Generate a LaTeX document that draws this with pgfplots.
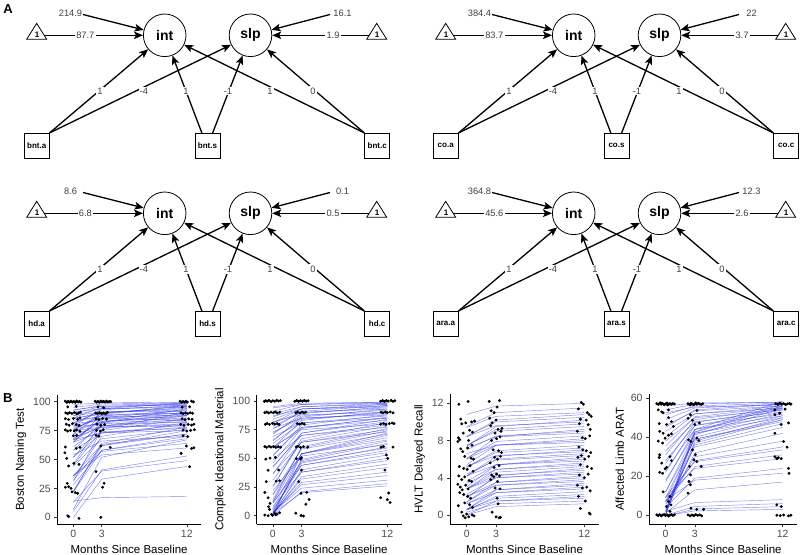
\documentclass[border=0pt]{standalone}
\usepackage{fontspec}
\setmainfont{Liberation Sans}
\usepackage{pgfplots}
\pgfplotsset{compat=1.18}
\usetikzlibrary{arrows.meta}
\definecolor{tickgray}{HTML}{4D4D4D}
\definecolor{tickline}{HTML}{333333}
\definecolor{labgray}{HTML}{404040}
\definecolor{trajblue}{RGB}{25,35,225}

\tikzset{
  arr/.style={line width=1.3pt,-{Stealth[length=9pt,width=7.5pt,inset=2pt]}},
  lab/.style={fill=white,inner sep=1.3pt,text=labgray,font=\fontsize{9.3}{10}\selectfont},
  lat/.style={circle,draw,line width=0.8pt,minimum size=42.6pt,inner sep=0pt,font=\bfseries\fontsize{14}{16}\selectfont},
  obs/.style={draw,line width=0.8pt,minimum size=25pt,inner sep=0pt,font=\bfseries\fontsize{8}{9}\selectfont},
  one/.style={inner sep=0pt,font=\bfseries\fontsize{8}{9}\selectfont},
}
\pgfplotsset{
  bplot/.style={scale only axis, anchor=south west,
    axis x line*=bottom, axis y line*=left,
    xmin=-1.7, xmax=13.5, xtick={0,3,12},
    tick align=outside, major tick length=3pt,
    tick style={tickline,line width=0.5pt},
    axis line style={line width=0.55pt},
    /pgf/number format/assume math mode=true,
    ticklabel style={font=\fontsize{10.5}{12}\selectfont, text=tickgray},
    label style={font=\fontsize{11.5}{13}\selectfont},
    xlabel={Months Since Baseline}},
  traj/.style={trajblue, line width=0.45pt, opacity=0.55, forget plot},
  pts/.style={only marks, mark=*, mark size=1.25pt, black, forget plot},
}
\newcommand\tr[3]{\addplot[traj] coordinates {(0,#1)(3,#2)(12,#3)};}

\newcommand\sempt[3]{\pgfmathsetmacro\semx{#2+\semdx}\pgfmathsetmacro\semy{#3+\semdy}\coordinate (#1) at (axis cs:\semx,\semy);}
\newcommand\semdiag[7]{\pgfplotsextra{%
  \def\semdx{#1}\def\semdy{#2}%
  \sempt{I}{164.7}{35.3}\sempt{S}{250.5}{35.3}%
  \sempt{BA}{36.7}{145.8}\sempt{BS}{207.5}{145.8}\sempt{BC}{377.2}{145.8}%
  \sempt{SA}{202}{133.3}\sempt{SB}{212.5}{133.3}%
  \sempt{T1a}{26.7}{39.3}\sempt{T1b}{36.7}{23.3}\sempt{T1c}{46.7}{39.3}\sempt{T1}{37}{34.5}%
  \sempt{T2a}{366.7}{39.3}\sempt{T2b}{376.7}{23.3}\sempt{T2c}{386.7}{39.3}\sempt{T2}{377}{34.5}%
  \sempt{M1}{44}{35.3}\sempt{M2}{369.4}{35.3}\sempt{V1}{83}{14.5}\sempt{V2}{330}{14.5}%
  \sempt{LM1}{85.3}{35.3}\sempt{LV1}{70.5}{13.3}\sempt{LM2}{333}{35.3}\sempt{LV2}{342.5}{13.3}%
  \sempt{E1}{100}{91}\sempt{E2}{144}{91}\sempt{E3}{186}{91}\sempt{E4}{228}{91}\sempt{E5}{270}{91}\sempt{E6}{313}{91}%
  \node[lat] (ni) at (I) {int};
  \node[lat] (ns) at (S) {slp};
  \node[obs] (na) at (BA) {#7.a};
  \node[obs] (nb) at (BS) {#7.s};
  \node[obs] (nc) at (BC) {#7.c};
  \draw[line width=0.8pt] (T1a)--(T1b)--(T1c)--cycle; \node[one] at (T1) {1};
  \draw[line width=0.8pt] (T2a)--(T2b)--(T2c)--cycle; \node[one] at (T2) {1};
  \draw[arr] (M1)--(ni); \draw[arr] (V1)--(ni);
  \draw[arr] (M2)--(ns); \draw[arr] (V2)--(ns);
  \draw[arr] (na.north east)--(ni); \draw[arr] (na.north east)--(ns);
  \draw[arr] (SA)--(ni); \draw[arr] (SB)--(ns);
  \draw[arr] (nc.north west)--(ni); \draw[arr] (nc.north west)--(ns);
  \node[lab] at (LM1) {#4}; \node[lab] at (LV1) {#3};
  \node[lab] at (LM2) {#6}; \node[lab] at (LV2) {#5};
  \node[lab] at (E1) {1}; \node[lab] at (E2) {-4}; \node[lab] at (E3) {1};
  \node[lab] at (E4) {-1}; \node[lab] at (E5) {1}; \node[lab] at (E6) {0};
}}

\begin{document}
\begin{tikzpicture}
\useasboundingbox (0,0) rectangle (800pt,554pt);
% ---------- panel A (path diagrams) ----------
\begin{axis}[at={(0pt,0pt)}, anchor=south west, scale only axis, width=800pt, height=554pt,
  xmin=0, xmax=800, ymin=0, ymax=554, y dir=reverse, hide axis, clip=false]
\semdiag{0}{0}{214.9}{87.7}{16.1}{1.9}{bnt}
\semdiag{409}{0}{384.4}{83.7}{22}{3.7}{co}
\semdiag{0}{178}{8.6}{6.8}{0.1}{0.5}{hd}
\semdiag{409}{178}{364.8}{45.6}{12.3}{2.6}{ara}
\node[font=\bfseries\fontsize{13}{15}\selectfont] at (axis cs:8,9) {A};
\node[font=\bfseries\fontsize{13}{15}\selectfont] at (axis cs:7.7,397.7) {B};
\end{axis}

% ---------- B1: Boston Naming Test ----------
\begin{axis}[bplot, at={(57.3pt,30pt)}, width=143.7pt, height=129pt,
  ymin=-5.8, ymax=105.8, ytick={0,25,50,75,100}, ylabel={Boston Naming Test}]
\addplot[pts] coordinates {
(-0.85,100.5)(-0.7,99.5)(-0.55,100.3)(-0.4,99.6)(-0.25,100.4)(-0.1,99.7)(0.05,100.2)(0.2,99.5)(0.35,100.6)(0.5,99.8)(0.65,100.3)(0.8,99.6)
(-0.6,95.5)(0.3,96)
(-0.8,90.3)(-0.6,89.6)(-0.4,90.5)(-0.15,89.8)(0.1,90.6)(0.35,89.5)(0.55,90.2)(0.75,91)
(-0.85,85.3)(-0.5,84.6)(0.0,85.5)(0.45,84.8)(0.7,86)
(-0.75,80.5)(-0.45,79.6)(-0.1,81)(0.3,80.2)(0.6,79.5)
(-0.85,75.6)(-0.6,74.6)(-0.3,75.2)(0.1,74.8)(0.35,75.5)(0.7,74.4)
(0.0,70.5)(0.35,71)
(-0.85,60.8)(0.3,59.6)(0.7,60.5)(-0.9,55.8)(-0.7,51)
(-0.5,44.4)(0.05,46.7)(0.6,45.8)
(-0.65,29.4)(-0.5,26.5)(-0.25,25)(-0.15,22)(0.2,21.3)(0.45,20.7)(-0.85,26)
(-0.6,1.2)(-0.5,0.6)(0.6,-0.9)
(2.3,100.4)(2.45,99.6)(2.6,100.2)(2.75,99.5)(2.9,100.6)(3.05,99.8)(3.2,100.3)(3.35,99.6)(3.5,100.5)(3.65,99.7)(3.8,100.2)(3.95,100)
(2.6,95.5)(3.2,94.8)
(2.35,90.2)(2.55,89.6)(2.8,90.5)(3.0,89.7)(3.2,90.3)(3.4,89.5)(3.6,90.8)
(2.4,85.2)(2.7,84.6)(3.1,85.5)(3.5,85)
(2.5,80.5)(2.9,79.6)(3.3,80.2)
(2.45,75.3)(2.85,74.6)(3.15,75.8)
(2.4,71)(2.7,70.2)(2.9,61.7)(3.9,60.5)(2.4,39.5)(3.25,29.4)(3.1,26)(2.9,0)
(11.3,100.4)(11.45,99.6)(11.6,100.2)(11.75,99.6)(11.9,100.3)(12.05,99.7)(12.5,100.5)(12.7,99.8)
(11.5,95.2)(12.3,95.6)
(11.4,90.4)(11.6,89.6)(11.85,90.3)(12.1,89.7)(12.35,90.5)(12.6,90)
(11.5,85.3)(11.8,84.5)(12.2,85.2)(12.55,84.8)
(11.35,80.4)(11.7,79.6)(12.15,80.3)(12.5,79.8)(12.75,80.5)
(11.6,75.5)(12.0,74.6)(12.4,75.2)(12.8,75.8)
(11.6,70.5)(12.1,69.8)(11.95,61.7)(12.5,59.5)(12.75,60.2)(11.4,55.3)(12.3,43.8)
};
\tr{97.5}{99}{99.5}\tr{95}{98}{99}\tr{92.5}{97}{98.5}\tr{90}{96}{98}\tr{86}{95}{98}
\tr{93}{96}{97}\tr{81}{93}{97}\tr{88}{94}{96}\tr{75}{90}{95}\tr{91}{94}{95}
\tr{82}{91}{94}\tr{85}{91}{93}\tr{88}{91}{92}\tr{76}{88}{92}\tr{67}{85}{91}
\tr{82}{88}{90}\tr{86}{89}{90}\tr{77}{86}{89}\tr{68}{83}{88}\tr{84}{87}{88}
\tr{79}{85}{87}\tr{74}{83}{86}\tr{81}{84}{85}\tr{61}{79}{85}\tr{76}{82}{84}
\tr{67}{79}{83}\tr{78}{81}{82}\tr{69}{78}{81}\tr{52}{73}{80}\tr{72}{78}{80}
\tr{75}{78}{79}\tr{58}{73}{78}\tr{65}{74}{77}\tr{44}{68}{76}\tr{67}{73}{75}
\tr{36}{63}{72}\tr{54}{66}{70}\tr{28}{58}{68}\tr{36}{57}{64}\tr{36}{54}{60}
\tr{5}{41}{53}\tr{13}{40}{49}\tr{0}{33}{44}\tr{14}{17}{18}
\tr{22}{58}{70}\tr{7}{52}{67}\tr{32}{62}{72}\tr{23}{62}{75}\tr{22}{64}{78}
\tr{34}{70}{82}\tr{45}{75}{85}\tr{52}{79}{88}\tr{58}{82}{90}\tr{65}{86}{93}
\tr{72}{90}{96}\tr{79}{94}{99}\tr{65}{89}{97}\tr{46}{82}{94}\tr{31}{76}{91}
\end{axis}

% ---------- B2: Complex Ideational Material ----------
\begin{axis}[bplot, at={(256.7pt,30pt)}, width=144.9pt, height=129pt,
  ymin=-7.2, ymax=105.2, ytick={0,25,50,75,100}, ylabel={Complex Ideational Material}]
\addplot[pts] coordinates {
(-0.9,99.6)(-0.75,100.3)(-0.6,99.8)(-0.4,100.5)(-0.2,99.5)(0.0,100.2)(0.2,99.7)(0.4,100.6)(0.6,99.9)(0.8,100.3)
(-0.85,89.8)(-0.65,90.4)(-0.45,89.6)(-0.2,90.3)(0.05,89.7)(0.25,90.5)(0.45,89.5)(0.7,90.2)
(-0.8,79.7)(-0.6,80.4)(-0.35,79.6)(-0.05,80.5)(0.2,79.8)(0.45,80.3)(0.65,79.6)
(-0.85,60.3)(-0.65,59.6)(-0.4,60.5)(-0.2,59.8)(0.05,60.4)(0.3,59.5)(0.55,60.2)(0.8,59.7)
(-0.75,49.4)(-0.3,50.2)(0.25,50.8)(-0.5,39.6)(0.6,39.8)
(-0.7,29.7)(0.35,30.2)(0.7,30.5)(-0.85,20.3)(-0.5,15.7)
(-0.3,10.8)(-0.45,7.8)(-0.35,5.5)
(-0.85,0.6)(-0.5,0)(-0.15,1.2)(0.2,2)(0.45,1.5)(0.7,2.6)(-0.05,0.3)(0.3,0.8)
(2.3,99.7)(2.5,100.4)(2.7,99.6)(2.9,100.3)(3.1,99.8)(3.3,100.5)(3.5,99.9)(3.7,100.2)
(2.4,89.7)(2.6,90.4)(2.85,89.6)(3.05,90.5)(3.25,89.8)(3.45,90.3)
(2.55,80.3)(2.8,79.7)(3.05,80.5)(3.3,79.8)
(2.45,60)(2.65,60.6)(2.9,59.5)(3.2,60.2)(3.65,59.7)
(2.45,49.8)(2.9,49.4)(3.0,50.5)(3.0,39.8)(2.7,29.7)(2.95,19.5)(3.55,20.3)(3.8,14.2)
(3.45,10)(2.4,2.2)(2.95,0.2)(3.2,-0.3)
(11.3,99.8)(11.5,100.4)(11.7,99.6)(11.9,100.3)(12.1,99.8)(12.4,100.5)(12.6,99.7)(12.8,100.2)
(11.35,90.2)(11.55,89.6)(11.8,90.4)(12.0,89.8)(12.3,90.5)(12.6,89.7)
(11.3,79.8)(11.6,80.5)(11.85,79.6)(12.2,80.3)(12.5,80.8)(12.7,80.2)
(11.35,59.6)(11.6,60.3)(12.6,59.8)(11.9,53)(12.05,50)(11.75,39.8)(12.15,19.8)
(11.3,15.7)(12.0,14)(12.3,11.5)
};
\tr{95}{98}{99}\tr{91}{97}{99}\tr{86}{95}{98}\tr{94}{97}{98}\tr{81}{93}{97}
\tr{89}{95}{97}\tr{76}{91}{96}\tr{84}{93}{96}\tr{71}{89}{95}\tr{87}{93}{95}
\tr{78}{90}{94}\tr{65}{86}{93}\tr{81}{90}{93}\tr{72}{87}{92}\tr{59}{83}{91}
\tr{82}{88}{90}\tr{66}{84}{90}\tr{73}{85}{89}\tr{52}{79}{88}\tr{76}{85}{88}
\tr{63}{81}{87}\tr{46}{76}{86}\tr{69}{81}{85}\tr{53}{77}{85}\tr{36}{72}{84}
\tr{59}{77}{83}\tr{42}{72}{82}\tr{25}{67}{81}\tr{60}{75}{80}\tr{43}{70}{79}
\tr{26}{65}{78}\tr{49}{70}{77}\tr{12}{60}{76}\tr{31}{64}{75}\tr{14}{59}{74}
\tr{37}{64}{73}\tr{0}{54}{72}\tr{19}{58}{71}\tr{6}{54}{70}\tr{12}{54}{68}
\tr{18}{54}{66}\tr{1}{49}{65}\tr{3}{48}{63}\tr{22}{52}{62}\tr{4}{46}{60}
\tr{11}{47}{59}\tr{5}{44}{57}\tr{11}{44}{55}\tr{1}{40}{53}\tr{2}{38}{50}
\tr{8}{38}{48}\tr{1}{34}{45}\tr{2}{32}{42}\tr{2}{29}{38}\tr{3}{27}{35}
\tr{3}{24}{31}\tr{0}{21}{28}\tr{2}{20}{26}
\end{axis}

% ---------- B3: HVLT Delayed Recall ----------
\begin{axis}[bplot, at={(450pt,30pt)}, width=149pt, height=129.7pt,
  ymin=-0.97, ymax=12.97, ytick={0,4,8,12}, ylabel={HVLT Delayed Recall}]
\addplot[pts] coordinates {
(-0.8,11.9)(0.15,12.2)(-0.6,10.3)(0.5,10.0)(-0.5,9.8)(-0.1,9.9)(0.8,10.1)(0.3,9.1)(0.6,8.9)(-0.35,8.8)
(-0.85,8.3)(-0.9,7.9)(-0.7,8.1)(0.2,8.0)(0.55,7.5)(-0.6,7.1)(-0.4,6.8)(0.1,7.2)(-0.2,6.3)(0.45,6.1)
(0.7,6.0)(-0.75,5.2)(-0.3,5.0)(0.05,4.9)(0.35,5.3)(0.65,4.7)(-0.8,4.2)(-0.5,3.8)(-0.2,4.1)(0.25,3.7)
(0.5,3.6)(-0.9,3.3)(-0.65,3.0)(-0.45,2.7)(-0.1,3.2)(0.15,2.8)(-0.7,2.4)(-0.3,2.2)(0.1,2.0)(0.4,1.8)
(-0.85,1.0)(-0.2,1.3)(0.3,1.1)(0.6,0.8)(-0.5,0.3)(-0.35,-0.1)(-0.15,-0.3)(0.0,0.1)(0.2,-0.2)(0.55,0.0)(0.75,-0.1)
(2.3,12.2)(3.35,12.3)(2.5,11.2)(3.1,11.6)(2.8,11.0)(2.35,10.4)(2.6,9.9)(3.0,10.2)(2.45,9.6)(3.2,9.2)
(3.5,9.0)(2.9,8.8)(3.6,9.3)(3.4,8.4)(2.55,8.0)(3.05,8.2)(2.7,7.0)(3.25,6.9)(3.55,6.7)(2.85,6.2)
(3.15,6.0)(3.45,6.3)(2.4,5.6)(2.8,5.1)(3.3,5.3)(2.55,4.3)(2.75,4.1)(3.05,4.4)(3.35,4.2)(2.45,3.8)
(3.15,3.6)(2.9,2.9)(3.4,2.8)(3.1,1.8)(3.2,1.2)(2.6,0.3)(3.0,-0.2)(3.3,-0.3)(3.45,-0.25)
(11.7,12.1)(11.9,11.9)(11.4,11.4)(12.3,11.0)(12.5,10.8)(11.6,10.3)(12.2,10.2)(12.7,10.6)(11.5,9.8)(12.4,9.7)
(11.3,9.0)(12.6,9.2)(11.8,8.3)(12.1,8.2)(12.55,8.5)(11.45,7.3)(11.85,7.0)(12.2,6.9)(12.65,6.7)(11.35,6.2)
(11.7,6.4)(12.05,6.0)(12.45,6.3)(11.6,5.4)(12.3,5.2)(12.75,5.0)(11.5,4.3)(12.0,4.0)(12.4,4.4)(11.3,3.2)
(11.8,2.9)(12.25,3.0)(12.6,2.6)(11.4,2.0)(12.1,1.5)(11.6,0.7)(12.5,0.2)(12.6,0.1)
};
\tr{10.8}{11.7}{12}\tr{9.5}{11}{11.5}\tr{9.4}{10.6}{11}\tr{8.4}{10.2}{10.8}\tr{8.5}{10}{10.5}
\tr{7.4}{9.5}{10.2}\tr{8.4}{9.6}{10}\tr{7.4}{9.2}{9.8}\tr{7.5}{9}{9.5}\tr{6}{8.4}{9.2}
\tr{7}{8.5}{9}\tr{7.2}{8.4}{8.8}\tr{6.1}{7.9}{8.5}\tr{5.4}{7.5}{8.2}\tr{6}{7.5}{8}
\tr{6.6}{7.5}{7.8}\tr{5.1}{6.9}{7.5}\tr{5.2}{6.7}{7.2}\tr{4.2}{6.3}{7}\tr{5.2}{6.4}{6.8}
\tr{4.2}{6}{6.6}\tr{4.4}{5.9}{6.4}\tr{3}{5.4}{6.2}\tr{3.6}{5.4}{6}\tr{4.2}{5.4}{5.8}
\tr{2.8}{4.9}{5.6}\tr{3.4}{4.9}{5.4}\tr{2.8}{4.6}{5.2}\tr{1.8}{4.2}{5}\tr{2.8}{4.3}{4.8}
\tr{2.2}{4}{4.6}\tr{2.8}{4}{4.4}\tr{1.4}{3.5}{4.2}\tr{2}{3.5}{4}\tr{1.4}{3.2}{3.8}
\tr{2}{3.2}{3.6}\tr{0.6}{2.7}{3.4}\tr{1.2}{2.7}{3.2}\tr{0.6}{2.4}{3}\tr{1.2}{2.4}{2.8}
\tr{0.5}{2}{2.5}\tr{0.6}{1.8}{2.2}\tr{0}{1.5}{2}\tr{0.6}{1.5}{1.8}\tr{0.3}{1.2}{1.5}\tr{0}{0.9}{1.2}
\end{axis}

% ---------- B4: Affected Limb ARAT ----------
\begin{axis}[bplot, at={(649pt,30pt)}, width=148.3pt, height=129.7pt,
  ymin=-4.5, ymax=62, ytick={0,20,40,60}, ylabel={Affected Limb ARAT}]
\addplot[pts] coordinates {
(-0.9,57.2)(-0.75,56.8)(-0.6,57.4)(-0.45,56.9)(-0.3,57.3)(-0.15,56.7)(0.0,57.1)(0.15,57.5)(0.3,56.8)(0.45,57.2)(0.6,56.9)(0.75,57.3)(0.9,57.0)(-0.5,57.6)(0.2,56.6)
(-0.75,54)(-0.4,53)(-0.25,52.5)(0.3,54)(-0.65,47)(0.1,46.5)(0.3,50)(0.6,48)(-0.6,43)(-0.25,42)
(-0.75,38)(-0.05,39.5)(0.3,41)(0.6,41.7)(-0.3,37)(0.8,45.5)(-0.6,31)(-0.65,29.6)(-0.4,26.7)(-0.6,22)
(-0.3,21.5)(-0.05,23.8)(0.1,24.6)(0.45,30)(0.6,28)(-0.25,12)(0.3,7)(0.45,9.6)(0.55,5.3)(0.1,4.4)(0.45,2)
(-0.9,0.2)(-0.75,-0.2)(-0.6,0.3)(-0.45,-0.3)(-0.3,0.1)(-0.15,0.4)(0.0,-0.2)(0.15,0.2)(0.3,-0.4)(0.45,0.1)(0.6,0.3)(0.75,-0.1)(0.9,0.2)
(2.3,57.2)(2.45,56.8)(2.6,57.4)(2.75,57)(2.9,56.7)(3.05,57.3)(3.2,56.9)(3.35,57.4)(3.5,57.1)(3.65,56.8)(3.8,57.2)(2.55,56.6)(3.1,57.6)
(2.3,49.7)(2.75,48.7)(2.55,51.5)(3.2,53.7)(3.0,46.5)(3.45,47.3)(2.35,38.6)(2.6,37.8)(3.2,39.5)(3.4,38.3)
(2.75,33.5)(3.05,31)(2.9,28.4)(3.2,27.5)(2.45,25)(3.65,25)(2.55,20.7)(2.4,17.3)(2.55,15.6)(2.3,11.3)
(2.6,3.6)(3.2,3)(3.9,3)
(2.3,0.2)(2.5,-0.3)(2.7,0.1)(2.9,-0.2)(3.1,0.3)(3.3,-0.1)(3.5,0.2)(3.7,-0.3)
(11.3,57.2)(11.5,56.8)(11.7,57.4)(11.9,56.9)(12.1,57.3)(12.3,56.7)(12.5,57.1)(12.7,57.3)(12.85,56.9)
(11.2,54)(11.2,51.5)(11.7,52.3)(12.25,54.4)(12.6,47.3)(11.85,46.5)(11.2,42)(12.1,37.8)(12.45,34.9)
(11.2,30)(11.4,29)(11.55,29.5)(11.85,29)(12.6,24)(12.65,21.5)(11.4,5.3)(11.85,4.4)
(11.4,0)(11.75,-0.2)(12.1,0.1)(12.6,-0.3)(12.85,0)
};
\tr{56}{57.5}{58}\tr{54}{57}{58}\tr{51.5}{56}{57.5}\tr{49}{55}{57}\tr{45}{54}{57}
\tr{52.5}{55.5}{56.5}\tr{40}{52}{56}\tr{46}{53.5}{56}\tr{35.5}{50.5}{55.5}\tr{43}{52}{55}
\tr{31}{49}{55}\tr{26.5}{47.5}{54.5}\tr{38}{50}{54}\tr{22}{46}{54}\tr{33}{48}{53}
\tr{17}{44}{53}\tr{28}{46}{52}\tr{12}{42}{52}\tr{23}{44}{51}\tr{7}{40}{51}
\tr{18}{42}{50}\tr{2}{38}{50}\tr{9}{39}{49}\tr{1}{37}{49}\tr{12}{39}{48}
\tr{3}{36}{47}\tr{5}{35}{45}\tr{2}{32}{42}\tr{6}{30}{38}\tr{7}{28}{35}
\tr{9.5}{27.5}{33.5}\tr{7}{25}{31}\tr{9}{24}{29}\tr{4}{19}{24}\tr{7.5}{18}{21.5}
\tr{1}{13}{17}\tr{2}{6.5}{8}\tr{0}{4.5}{6}\tr{-0.4}{3.2}{4.4}\tr{-0.2}{2.2}{3}
\tr{0.2}{42.8}{57}\tr{0.5}{44}{58.5}\tr{2}{42.5}{56}\tr{-0.2}{41.2}{55}
\end{axis}
\end{tikzpicture}
\end{document}
